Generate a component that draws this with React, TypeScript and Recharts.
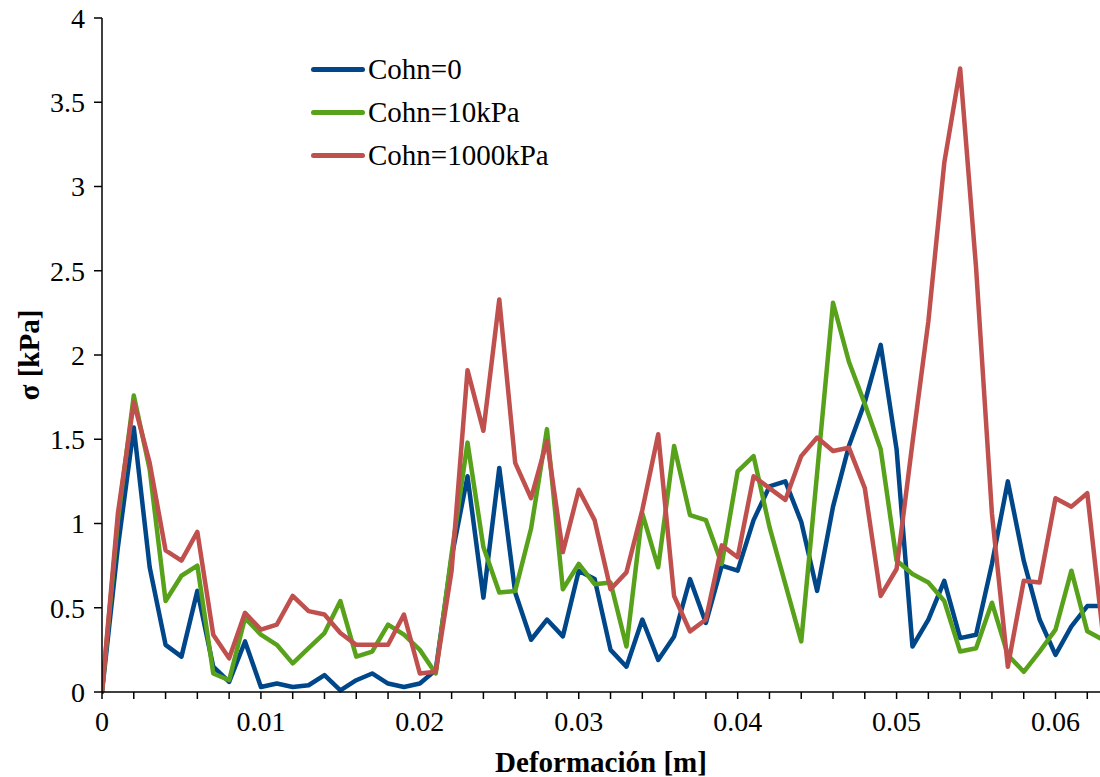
import { LineChart, Line, XAxis, YAxis } from 'recharts';

// deformation steps [m]
const deformacion = [
  0, 0.001, 0.002, 0.003, 0.004, 0.005, 0.006, 0.007, 0.008, 0.009,
  0.01, 0.011, 0.012, 0.013, 0.014, 0.015, 0.016, 0.017, 0.018, 0.019,
  0.02, 0.021, 0.022, 0.023, 0.024, 0.025, 0.026, 0.027, 0.028, 0.029,
  0.03, 0.031, 0.032, 0.033, 0.034, 0.035, 0.036, 0.037, 0.038, 0.039,
  0.04, 0.041, 0.042, 0.043, 0.044, 0.045, 0.046, 0.047, 0.048, 0.049,
  0.05, 0.051, 0.052, 0.053, 0.054, 0.055, 0.056, 0.057, 0.058, 0.059,
  0.06, 0.061, 0.062, 0.063,
];

const cohn0 = [
  0, 0.86, 1.57, 0.74, 0.28, 0.21, 0.6, 0.15, 0.06, 0.3,
  0.03, 0.05, 0.03, 0.04, 0.1, 0.01, 0.07, 0.11, 0.05, 0.03,
  0.05, 0.13, 0.8, 1.28, 0.56, 1.33, 0.59, 0.31, 0.43, 0.33,
  0.72, 0.67, 0.25, 0.15, 0.43, 0.19, 0.33, 0.67, 0.41, 0.75,
  0.72, 1.02, 1.22, 1.25, 1.01, 0.6, 1.1, 1.46, 1.72, 2.06,
  1.44, 0.27, 0.43, 0.66, 0.32, 0.34, 0.76, 1.25, 0.78, 0.43,
  0.22, 0.39, 0.51, 0.51,
];

const cohn10 = [
  0, 1.02, 1.76, 1.32, 0.54, 0.69, 0.75, 0.11, 0.07, 0.44,
  0.34, 0.28, 0.17, 0.26, 0.35, 0.54, 0.21, 0.24, 0.4, 0.34,
  0.25, 0.11, 0.82, 1.48, 0.86, 0.59, 0.6, 0.97, 1.56, 0.61,
  0.76, 0.64, 0.65, 0.27, 1.06, 0.74, 1.46, 1.05, 1.02, 0.76,
  1.31, 1.4, 0.98, 0.64, 0.3, 1.3, 2.31, 1.96, 1.71, 1.44,
  0.78, 0.7, 0.65, 0.54, 0.24, 0.26, 0.53, 0.22, 0.12, 0.24,
  0.37, 0.72, 0.36, 0.31,
];

const cohn1000 = [
  0, 1.06, 1.72, 1.36, 0.84, 0.78, 0.95, 0.34, 0.2, 0.47,
  0.37, 0.4, 0.57, 0.48, 0.46, 0.35, 0.28, 0.28, 0.28, 0.46,
  0.11, 0.12, 0.72, 1.91, 1.55, 2.33, 1.36, 1.15, 1.49, 0.83,
  1.2, 1.02, 0.61, 0.71, 1.08, 1.53, 0.57, 0.36, 0.43, 0.87,
  0.8, 1.28, 1.21, 1.14, 1.4, 1.51, 1.43, 1.45, 1.21, 0.57,
  0.73, 1.48, 2.2, 3.14, 3.7, 2.52, 1.06, 0.15, 0.66, 0.65,
  1.15, 1.1, 1.18, 0.33,
];

const xTicks = [
  0, 0.002, 0.004, 0.006, 0.008, 0.01, 0.012, 0.014, 0.016, 0.018,
  0.02, 0.022, 0.024, 0.026, 0.028, 0.03, 0.032, 0.034, 0.036, 0.038,
  0.04, 0.042, 0.044, 0.046, 0.048, 0.05, 0.052, 0.054, 0.056, 0.058,
  0.06, 0.062,
];
const yTicks = [0, 0.5, 1, 1.5, 2, 2.5, 3, 3.5, 4];

const series = [
  { key: 'c0', name: 'Cohn=0', color: '#00478A' },
  { key: 'c10', name: 'Cohn=10kPa', color: '#58A11B' },
  { key: 'c1000', name: 'Cohn=1000kPa', color: '#C0504D' },
];

const data = deformacion.map((x, i) => ({
  x,
  c0: cohn0[i],
  c10: cohn10[i],
  c1000: cohn1000[i],
}));

const FONT = '"Liberation Serif", "Times New Roman", serif';

// only every 0.01 gets a label, the 0.002 ticks stay bare
const xLabel = (v: number) => {
  const r = Math.round(v * 100);
  if (Math.abs(v * 100 - r) > 1e-6) return '';
  return r === 0 ? '0' : (r / 100).toFixed(2);
};

export default function App() {
  return (
    <div
      style={{
        position: 'fixed',
        left: 0,
        top: 0,
        width: 1100,
        height: 777,
        background: '#fff',
        fontFamily: FONT,
      }}
    >
      <LineChart
        width={1100}
        height={777}
        data={data}
        margin={{ top: 18, right: 0, bottom: 0, left: 0 }}
      >
        <XAxis
          dataKey='x'
          type='number'
          domain={[0, 0.0628]}
          allowDataOverflow
          ticks={xTicks}
          interval={0}
          tickFormatter={xLabel}
          height={85}
          tickSize={7}
          tickMargin={12}
          stroke='#000'
          strokeWidth={1.5}
          tick={{ fill: '#000', fontSize: 28, fontFamily: FONT }}
          label={{
            content: () => (
              <text
                x={601}
                y={772}
                textAnchor='middle'
                fontFamily={FONT}
                fontSize={29}
                fontWeight='bold'
                fill='#000'
              >
                Deformación [m]
              </text>
            ),
          }}
        />
        <YAxis
          type='number'
          domain={[0, 4]}
          ticks={yTicks}
          interval={0}
          width={102}
          tickSize={8}
          tickMargin={9}
          stroke='#000'
          strokeWidth={1.5}
          tick={{ fill: '#000', fontSize: 28, fontFamily: FONT }}
          label={{
            content: () => (
              <text
                x={29}
                y={355}
                transform='rotate(-90 29 355)'
                textAnchor='middle'
                dominantBaseline='central'
                fontFamily={FONT}
                fontSize={29}
                fontWeight='bold'
                fill='#000'
              >
                σ [kPa]
              </text>
            ),
          }}
        />
        {series.map((s) => (
          <Line
            key={s.key}
            dataKey={s.key}
            name={s.name}
            type='linear'
            stroke={s.color}
            strokeWidth={4.5}
            strokeLinejoin='round'
            strokeLinecap='round'
            dot={false}
            activeDot={false}
            isAnimationActive={false}
          />
        ))}
      </LineChart>
      <div
        style={{
          position: 'absolute',
          left: 311,
          top: 48,
          display: 'flex',
          flexDirection: 'column',
        }}
      >
        {series.map((s) => (
          <div key={s.key} style={{ display: 'flex', alignItems: 'center', height: 43 }}>
            <span
              style={{
                display: 'inline-block',
                width: 54,
                height: 5,
                borderRadius: 2.5,
                background: s.color,
                marginRight: 3,
              }}
            />
            <span style={{ fontSize: 29, lineHeight: '43px', color: '#000' }}>{s.name}</span>
          </div>
        ))}
      </div>
    </div>
  );
}
